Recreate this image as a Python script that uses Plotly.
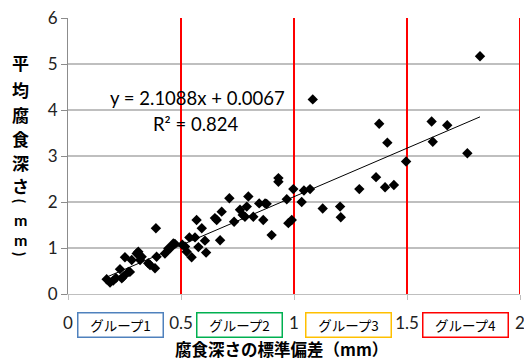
import plotly.graph_objects as go

# Data (standard deviation of corrosion depth, mean corrosion depth) in mm
std_dev = [0.171, 0.186, 0.200, 0.212, 0.230, 0.238, 0.245, 0.252, 0.267, 0.274,
           0.282, 0.304, 0.311, 0.319, 0.326, 0.355, 0.363, 0.385, 0.389, 0.392,
           0.429, 0.444, 0.451, 0.466, 0.473,
           0.506, 0.518, 0.525, 0.547, 0.537, 0.562, 0.569, 0.592, 0.577, 0.606,
           0.611, 0.650, 0.658, 0.673, 0.680, 0.714, 0.735, 0.761, 0.773, 0.791,
           0.798, 0.783, 0.820, 0.846, 0.872, 0.864, 0.879, 0.901, 0.931, 0.931,
           0.968, 0.975, 0.990,
           0.997, 1.034, 1.044, 1.071, 1.083, 1.127, 1.204, 1.207, 1.289, 1.363,
           1.377, 1.403, 1.413, 1.442, 1.496,
           1.609, 1.614, 1.678, 1.767, 1.823]
mean_depth = [0.32, 0.25, 0.29, 0.35, 0.54, 0.34, 0.38, 0.80, 0.48, 0.48,
              0.74, 0.88, 0.92, 0.74, 0.81, 0.67, 0.63, 0.56, 1.43, 0.81,
              0.88, 0.99, 0.99, 1.10, 1.09,
              1.07, 1.03, 0.92, 0.80, 1.23, 1.23, 1.61, 1.43, 1.02, 1.16,
              0.90, 1.65, 1.61, 1.17, 1.79, 2.08, 1.57, 1.83, 1.72, 1.90,
              2.12, 1.68, 1.68, 1.97, 1.97, 1.61, 1.96, 1.28, 2.52, 2.44,
              2.06, 1.54, 1.61,
              2.28, 2.00, 2.25, 2.28, 4.23, 1.86, 1.90, 1.67, 2.28, 2.54,
              3.70, 2.32, 3.29, 2.37, 2.88,
              3.75, 3.31, 3.67, 3.06, 5.17]

slope = 2.1088
intercept = 0.0067
r_squared = 0.824

group_bounds = [0.5, 1.0, 1.5, 2.0]
group_labels = ["グループ1", "グループ2", "グループ3", "グループ4"]
group_centers = [0.232, 0.759, 1.239, 1.759]
group_colors = ["#4F81BD", "#00B050", "#FFC000", "#FF0000"]

x_ticks = [0, 0.5, 1, 1.5, 2]
x_tick_text = ["0", "0.5", "1", "1.5", "2"]
y_ticks = [0, 1, 2, 3, 4, 5, 6]

# vertical y-axis title: "平均腐食深さ(mm)" stacked one glyph per row
y_title_kana = ["平", "均", "腐", "食", "深", "さ"]
y_title_kana_px = [62, 89, 114, 138, 162, 185]
y_title_unit = ["(", "m", "m", ")"]
y_title_unit_px = [201, 220, 239, 254]
y_title_unit_angle = [90, 0, 0, 90]

latin = "Lato, 'Liberation Sans', sans-serif"
cjk = "'Noto Sans CJK JP', sans-serif"

# plot area in pixels (for placing outside texts)
PL, PT, PW, PH = 68, 18, 452, 276

fig = go.Figure()

xmin, xmax = min(std_dev), max(std_dev)
fig.add_trace(go.Scatter(
    x=[xmin, xmax], y=[slope * xmin + intercept, slope * xmax + intercept],
    mode="lines", line=dict(color="black", width=1), hoverinfo="skip",
    showlegend=False))

fig.add_trace(go.Scatter(
    x=std_dev, y=mean_depth, mode="markers",
    marker=dict(symbol="diamond", size=8, color="black"),
    showlegend=False))

shapes = []
for b in group_bounds:
    shapes.append(dict(type="line", xref="x", yref="y", x0=b, x1=b, y0=0, y1=6,
                       line=dict(color="#FF0000", width=2), layer="between"))

annotations = [
    dict(text=f"y = {slope}x + {intercept}", xref="x", yref="y",
         x=0.571, y=4.26, showarrow=False, align="center",
         font=dict(family=latin, size=18.5, color="black")),
    dict(text=f"R² = {r_squared}", xref="x", yref="y",
         x=0.566, y=3.70, showarrow=False, align="center",
         font=dict(family=latin, size=18.5, color="black")),
    dict(text="腐食深さの標準偏差（mm）", xref="paper", yref="paper",
         x=(281 - PL) / PW, y=(PT + PH - 349) / PH, xanchor="center", yanchor="middle",
         showarrow=False, font=dict(family=cjk, size=16.5, color="black", weight="bold")),
]
for ch, py in zip(y_title_kana, y_title_kana_px):
    annotations.append(dict(
        text=ch, xref="paper", yref="paper", x=(20 - PL) / PW, y=(PT + PH - py) / PH,
        xanchor="center", yanchor="middle", showarrow=False,
        font=dict(family=cjk, size=17, color="black", weight="bold")))
for ch, py, ang in zip(y_title_unit, y_title_unit_px, y_title_unit_angle):
    annotations.append(dict(
        text=ch, xref="paper", yref="paper", x=(20 - PL) / PW, y=(PT + PH - py) / PH,
        xanchor="center", yanchor="middle", showarrow=False, textangle=ang,
        font=dict(family=latin, size=16 if ang == 0 else 15, color="black",
                  weight="bold")))
for lab, cx, col in zip(group_labels, group_centers, group_colors):
    annotations.append(dict(
        text=lab, xref="x", yref="paper", x=cx, y=(PT + PH - 324.5) / PH,
        xanchor="center", yanchor="middle", showarrow=False,
        width=80, height=19, bgcolor="white", bordercolor=col, borderwidth=1.5,
        borderpad=2, font=dict(family=cjk, size=13.5, color="black")))

fig.update_layout(
    width=524, height=362,
    margin=dict(l=PL, r=524 - PL - PW, t=PT, b=362 - PT - PH),
    paper_bgcolor="white", plot_bgcolor="white",
    shapes=shapes, annotations=annotations,
    xaxis=dict(range=[0, 2], tickvals=x_ticks, ticktext=x_tick_text,
               showgrid=False, zeroline=False, showline=True, linecolor="#BFBFBF",
               linewidth=1, ticks="outside", ticklen=5, tickcolor="#BFBFBF",
               ticklabelstandoff=9, ticklabeloverflow="allow", automargin=False,
               tickfont=dict(family=latin, size=17, color="#222")),
    yaxis=dict(range=[0, 6], tickvals=y_ticks, showgrid=True, gridcolor="#BFBFBF",
               gridwidth=1.5, zeroline=False, showline=True, linecolor="#8C8C8C",
               linewidth=1, ticks="outside", ticklen=6, tickcolor="#8C8C8C",
               automargin=False,
               tickfont=dict(family=latin, size=17, color="#222")),
)

fig.write_html("out.html", config={"displayModeBar": False},
               post_script="document.body.style.margin='0';")
